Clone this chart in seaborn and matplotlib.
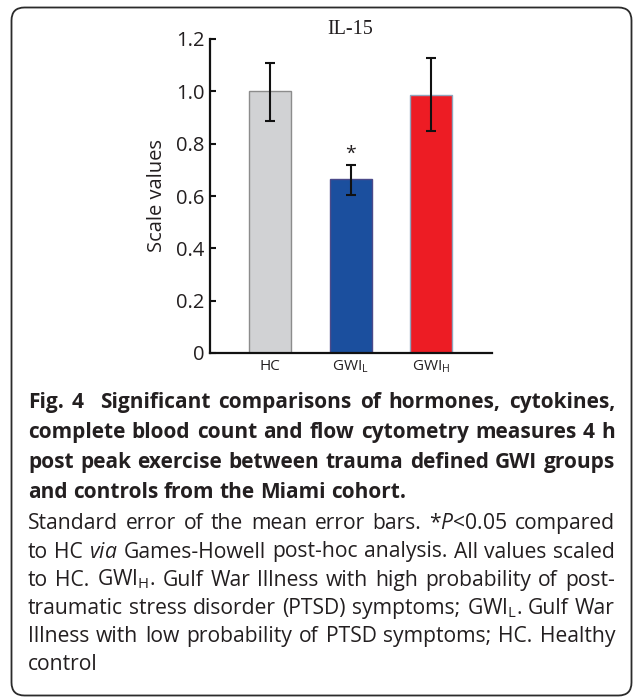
import matplotlib
matplotlib.use('Agg')
import numpy as np
import pandas as pd
import seaborn as sns
import matplotlib.pyplot as plt
from matplotlib.patches import FancyBboxPatch

# data ------------------------------------------------------------------
groups = ['HC', 'GWI$_\\mathregular{L}$', 'GWI$_\\mathregular{H}$']
means = [1.0, 0.664, 0.987]
err_lo = [0.887, 0.604, 0.848]
err_hi = [1.109, 0.718, 1.128]
sig = [False, True, False]
colors = ['#d1d2d4', '#1b4f9e', '#ed1c24']
edges = ['#8c8c8c', '#4b4a8a', '#8fa5bd']
yticks = [0, 0.2, 0.4, 0.6, 0.8, 1.0, 1.2]
ytick_labels = ['0', '0.2', '0.4', '0.6', '0.8', '1.0', '1.2']

title = 'IL-15'
bold_lines = [
    'Fig. 4  Significant comparisons of hormones, cytokines,',
    'complete blood count and flow cytometry measures 4 h',
    'post peak exercise between trauma defined GWI groups',
    'and controls from the Miami cohort.',
]
plain_lines = [
    'Standard error of the mean error bars. *$\\mathit{P}$<0.05 compared',
    'to HC $\\mathit{via}$ Games-Howell post-hoc analysis. All values scaled',
    'to HC. GWI$_\\mathregular{H}$. Gulf War Illness with high probability of post-',
    'traumatic stress disorder (PTSD) symptoms; GWI$_\\mathregular{L}$. Gulf War',
    'Illness with low probability of PTSD symptoms; HC. Healthy',
    'control',
]

# style -----------------------------------------------------------------
sns.set_style('ticks')
plt.rcParams['font.family'] = ['Open Sans', 'DejaVu Sans']
plt.rcParams['mathtext.fontset'] = 'custom'
plt.rcParams['mathtext.rm'] = 'Open Sans'
plt.rcParams['mathtext.it'] = 'Open Sans:italic'
plt.rcParams['mathtext.bf'] = 'Open Sans:bold'
ink = '#231f20'

fig = plt.figure(figsize=(6.33, 6.98), dpi=100)

# frame + caption layer (pixel units)
ax0 = fig.add_axes([0, 0, 1, 1], zorder=0)
ax0.set_xlim(0, 633)
ax0.set_ylim(698, 0)
ax0.axis('off')
ax0.add_patch(FancyBboxPatch((11.5, 7.5), 620, 688, boxstyle='round,pad=0,rounding_size=13',
                             fc='none', ec='#2b2b2b', lw=1.3))

# bar chart -------------------------------------------------------------
ax = fig.add_axes([210 / 633, 1 - 353 / 698, 282 / 633, 314 / 698], zorder=2)
df = pd.DataFrame({'group': groups, 'value': means})
sns.barplot(data=df, x='group', y='value', hue='group', palette=colors, width=0.52,
            saturation=1, errorbar=None, legend=False, ax=ax)
for p, ec in zip(ax.patches, edges):
    p.set_edgecolor(ec)
    p.set_linewidth(1.0)

xs = np.arange(len(groups))
m = np.array(means)
ax.errorbar(xs, m, yerr=[m - np.array(err_lo), np.array(err_hi) - m], fmt='none',
            ecolor='#111111', elinewidth=1.5, capsize=3.8, capthick=1.5, zorder=3)
for x, s, hi in zip(xs, sig, err_hi):
    if s:
        ax.text(x, hi + 0.01, '*', ha='center', va='bottom', fontsize=14, color=ink)

ax.set_xlim(-0.74, 2.75)
ax.set_ylim(0, 1.2)
ax.set_yticks(yticks)
ax.set_yticklabels(ytick_labels)
ax.set_xlabel('')
ax.set_ylabel('Scale values', fontsize=14.5, color=ink)
ax.yaxis.set_label_coords(-0.152, 0.5)
ax.tick_params(axis='y', direction='in', length=4, width=1.5, labelsize=14.5,
               pad=4, colors='#111111', labelcolor=ink)
ax.tick_params(axis='x', length=0, labelsize=11, pad=4, labelcolor=ink)
sns.despine(ax=ax)
for sp in ['left', 'bottom']:
    ax.spines[sp].set_linewidth(1.6)
    ax.spines[sp].set_color('#111111')
ax.patch.set_alpha(0)

fig.text(350.5 / 633, 1 - 30 / 698, title, ha='center', va='center',
         fontsize=14.5, family='Liberation Serif', color=ink)

# caption (justified) ---------------------------------------------------
renderer = fig.canvas.get_renderer()
x_left, x_right = 28, 615


def draw_line(line, y, size, weight, justify):
    toks = line.split(' ')
    texts, widths = [], []
    for t in toks:
        if t == '':
            texts.append(None)
            widths.append(0.0)
            continue
        tx = ax0.text(0, y, t, fontsize=size, fontweight=weight, va='baseline',
                      ha='left', color=ink)
        widths.append(tx.get_window_extent(renderer).width)
        texts.append(tx)
    if justify and len(toks) > 1:
        gap = (x_right - x_left - sum(widths)) / (len(toks) - 1)
    else:
        gap = size * 100 / 72 * 0.26
    x = x_left
    for tx, w in zip(texts, widths):
        if tx is not None:
            tx.set_x(x)
        x += w + gap


for i, line in enumerate(bold_lines):
    draw_line(line, 408.3 + 30 * i, 15, 'bold', i < len(bold_lines) - 1)
for i, line in enumerate(plain_lines):
    draw_line(line, 529.3 + 28.2 * i, 15.2, 'normal', i < len(plain_lines) - 1)

fig.savefig('out.png', dpi=100)
